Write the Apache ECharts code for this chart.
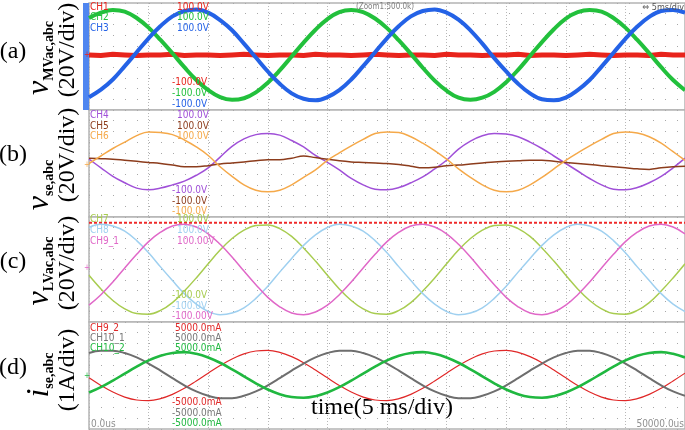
<!DOCTYPE html>
<html>
<head>
<meta charset="utf-8">
<script src="https://cdn.jsdelivr.net/npm/echarts@6/dist/echarts.min.js"></script>
<style>
html, body { margin: 0; padding: 0; background: #fff; }
#scope { width: 685px; height: 430px; }
</style>
</head>
<body>
<div id="scope"></div>
<script>
// time axis in ms (5 ms/div, 10 div), one sample per ms
const timeMs = [0,1,2,3,4,5,6,7,8,9,10,11,12,13,14,15,16,17,18,19,20,21,22,23,24,25,26,27,28,29,30,31,32,33,34,35,36,37,38,39,40,41,42,43,44,45,46,47,48,49,50];

// (a) MV side voltages, V
const ch1 = [3,2,4,3,2,3,3,4,2,3, 3,2,3,4,3,2,3,3,2,4, 3,3,2,3,4,3,2,3,3,2, 4,3,3,2,3,3,4,2,3,3, 2,3,4,3,2,3,3,2,4,3,3];
const ch2 = [72,82,87,84,72,54,31,6,-20,-44, -63,-76,-81,-78,-67,-49,-26,0,26,50,
             70,83,87,83,71,53,30,5,-21,-45, -64,-77,-81,-77,-66,-48,-25,1,27,51,
             71,83,87,84,72,54,31,6,-20,-44,-63];
const ch3 = [-76,-62,-43,-18,8,34,57,75,85,88, 82,68,49,24,-2,-28,-51,-69,-79,-82,
             -76,-63,-43,-18,8,34,57,75,85,88, 82,69,49,24,-3,-28,-51,-69,-80,-82,
             -77,-63,-44,-19,7,33,56,74,85,87,82];

// (b) series transformer voltages, V
const ch4 = [8,-8,-24,-36,-46,-49,-46,-40,-33,-22, -8,12,32,46,54,56,53,43,31,15,
             2,-12,-28,-40,-48,-49,-45,-36,-25,-10, 6,27,42,52,56,55,50,40,28,14,
             0,-14,-28,-40,-48,-49,-45,-36,-24,-8,10];
const ch5 = [10,9,8,6,4,2,0,-3,-6,-6, -4,-1,1,3,5,7,7,10,14,11,
             8,5,3,2,1,0,-2,-5,-8,-7, -4,-3,-1,1,3,4,5,6,6,4,
             2,0,-2,-4,-6,-8,-10,-11,-8,-6,-5];
const ch6 = [0,14,28,40,52,59,58,54,44,31, 15,-6,-24,-40,-50,-53,-50,-40,-26,-12,
             6,20,33,45,56,59,58,50,38,24, 8,-10,-26,-40,-50,-53,-50,-40,-26,-10,
             6,20,33,45,56,59,57,50,38,22,6];

// (c) LV side voltages, V
const ch7 = [-11,-37,-59,-75,-84,-85,-78,-63,-41,-16, 11,37,59,75,84,85,78,63,41,16,
             -11,-37,-59,-75,-84,-85,-78,-63,-41,-16, 11,37,59,75,84,85,78,63,41,16,
             -11,-37,-59,-75,-84,-85,-78,-63,-41,-16,11];
const ch8 = [80,86,83,73,55,32,5,-21,-46,-66, -80,-86,-83,-73,-55,-32,-5,21,46,66,
             80,86,83,73,55,32,5,-21,-46,-66, -80,-86,-83,-73,-55,-32,-5,21,46,66,
             80,86,83,73,55,32,5,-21,-46,-66,-80];
const ch91 = [-68,-48,-24,3,29,53,71,83,86,81, 68,48,24,-3,-29,-53,-71,-83,-86,-81,
              -68,-48,-24,3,29,53,71,83,86,81, 68,48,24,-3,-29,-53,-71,-83,-86,-81,
              -68,-48,-24,3,29,53,71,83,86,81,68];
const markerTime = [0, 50];
const markerC = [89, 89];

// (d) series currents, mA
const ch92 = [-220,-930,-1550,-2020,-2290,-2340,-2160,-1760,-1200,-510, 220,930,1550,2020,2290,2340,2160,1760,1200,510,
              -220,-930,-1550,-2020,-2290,-2340,-2160,-1760,-1200,-510, 220,930,1550,2020,2290,2340,2160,1760,1200,510,
              -220,-930,-1550,-2020,-2290,-2340,-2160,-1760,-1200,-510,220];
const ch101 = [2100,2320,2320,2100,1690,1120,450,-250,-920,-1490, -1900,-2120,-2120,-1900,-1490,-920,-250,450,1120,1690,
               2100,2320,2320,2100,1690,1120,450,-250,-920,-1490, -1900,-2120,-2120,-1900,-1490,-920,-250,450,1120,1690,
               2100,2320,2320,2100,1690,1120,450,-250,-920,-1490,-1900];
const ch102 = [-1590,-1090,-480,180,830,1410,1850,2110,2180,2030, 1690,1190,580,-80,-730,-1310,-1750,-2010,-2080,-1930,
               -1590,-1090,-480,180,830,1410,1850,2110,2180,2030, 1690,1190,580,-80,-730,-1310,-1750,-2010,-2080,-1930,
               -1590,-1090,-480,180,830,1410,1850,2110,2180,2030,1690];

const panels = [
  { top: 3, height: 107, min: -100, max: 100, step: 20 },
  { top: 110, height: 107, min: -100, max: 100, step: 20 },
  { top: 217, height: 105, min: -100, max: 100, step: 20 },
  { top: 322, height: 107, min: -5000, max: 5000, step: 1000 }
];

function pairs(xs, vals) {
  return xs.map((t, i) => [t, vals[i]]);
}
function trace(name, gi, vals, color, width, extra) {
  return Object.assign({
    name: name,
    type: "line",
    xAxisIndex: gi,
    yAxisIndex: gi,
    showSymbol: false,
    smooth: 0.4,
    silent: true,
    lineStyle: { color: color, width: width },
    data: pairs(timeMs, vals)
  }, extra || {});
}

const scopeFont = "'Liberation Sans Narrow', 'DejaVu Sans Condensed', sans-serif";
const serif = "'Liberation Serif', 'DejaVu Serif', serif";

function txt(x, y, s, color, size, align) {
  return {
    type: "text", x: x, y: y, silent: true, z: 10,
    style: {
      text: s, fill: color, fontFamily: scopeFont, fontSize: size || 10,
      align: align || "left", textAlign: align || "left",
      verticalAlign: "middle", textVerticalAlign: "middle"
    }
  };
}
function serifText(x, y, s, rot) {
  return {
    type: "text", x: x, y: y, rotation: rot || 0, silent: true,
    style: {
      text: s, fill: "#000", fontFamily: serif, fontSize: 24,
      align: "center", textAlign: "center",
      verticalAlign: "middle", textVerticalAlign: "middle"
    }
  };
}
function symText(x, y, sym, sub) {
  return {
    type: "text", x: x, y: y, rotation: Math.PI / 2, silent: true,
    style: {
      text: "{v|" + sym + "}{s|" + sub + "}",
      align: "center", textAlign: "center",
      verticalAlign: "middle", textVerticalAlign: "middle",
      rich: {
        v: { fontFamily: serif, fontStyle: "italic", fontSize: 32, fill: "#000", lineHeight: 32 },
        s: { fontFamily: serif, fontWeight: "bold", fontSize: 14, fill: "#000", verticalAlign: "bottom" }
      }
    }
  };
}

// label colours
const cA = ["#e8241c", "#22c03c", "#2462e6"];
const cB = ["#a050d8", "#8c3c1c", "#f5a94a"];
const cC = ["#a8cc50", "#9fd0f0", "#e068c8"];
const cD = ["#e02828", "#777777", "#20b840"];

const option = {
  backgroundColor: "#fff",
  animation: false,
  grid: panels.map(p => ({
    left: 89, width: 596, top: p.top, height: p.height,
    show: true, backgroundColor: "#fff", borderColor: "#b4b4b4", borderWidth: 1.5
  })),
  xAxis: panels.map((p, i) => ({
    type: "value", gridIndex: i, min: 0, max: 50, interval: 5,
    axisLabel: { show: false }, axisTick: { show: false }, axisLine: { show: false },
    splitLine: { show: true, lineStyle: { color: "#b8b8b8", type: [1, 2], width: 1 } }
  })),
  yAxis: panels.map((p, i) => ({
    type: "value", gridIndex: i, min: p.min, max: p.max, interval: p.step,
    axisLabel: { show: false }, axisTick: { show: false }, axisLine: { show: false },
    splitLine: { show: true, lineStyle: { color: "#a8a8a8", type: [1, 11], width: 1 } }
  })),
  series: [
    trace("CH1", 0, ch1, cA[0], 5, { smooth: false }),
    trace("CH2", 0, ch2, cA[1], 4),
    trace("CH3", 0, ch3, cA[2], 4),
    trace("CH4", 1, ch4, cB[0], 1.5),
    trace("CH5", 1, ch5, cB[1], 1.5),
    trace("CH6", 1, ch6, cB[2], 1.5),
    {
      name: "marker", type: "line", xAxisIndex: 2, yAxisIndex: 2, showSymbol: false, silent: true,
      lineStyle: { color: "#ee2a2a", width: 2, type: [3, 2] },
      data: pairs(markerTime, markerC)
    },
    trace("CH7", 2, ch7, cC[0], 1.5),
    trace("CH8", 2, ch8, cC[1], 1.5),
    trace("CH9_1", 2, ch91, cC[2], 1.5),
    trace("CH9_2", 3, ch92, cD[0], 1.2),
    trace("CH10_1", 3, ch101, "#6e6e6e", 2),
    trace("CH10_2", 3, ch102, cD[2], 2.6)
  ],
  graphic: {
    elements: [
      { type: "rect", silent: true, shape: { x: 83, y: 3, width: 6, height: 107 }, style: { fill: "#4f86f0" } },
      // panel (a)
      txt(90, 7, "CH1", cA[0]), txt(90, 17, "CH2", cA[1]), txt(90, 28, "CH3", cA[2]),
      txt(177, 7, "100.0V", cA[0]), txt(177, 17, "100.0V", cA[1]), txt(177, 28, "100.0V", cA[2]),
      txt(172, 82, "-100.0V", cA[0]), txt(172, 93, "-100.0V", cA[1]), txt(172, 104, "-100.0V", cA[2]),
      txt(385, 7, "(Zoom1:500.0k)", "#808080", 8, "center"),
      txt(684, 8, "\u21d4 5ms/div", "#555555", 9, "right"),
      // panel (b)
      txt(90, 115, "CH4", cB[0]), txt(90, 126, "CH5", cB[1]), txt(90, 136, "CH6", cB[2]),
      txt(177, 115, "100.0V", cB[0]), txt(177, 126, "100.0V", cB[1]), txt(177, 136, "100.0V", cB[2]),
      txt(172, 190, "-100.0V", cB[0]), txt(172, 201, "-100.0V", cB[1]), txt(172, 211, "-100.0V", cB[2]),
      // panel (c)
      txt(90, 219, "CH7", cC[0]), txt(90, 230, "CH8", cC[1]), txt(90, 241, "CH9_1", cC[2]),
      txt(177, 219, "100.0V", cC[0]), txt(177, 230, "100.0V", cC[1]), txt(177, 241, "100.00V", cC[2]),
      txt(172, 295, "-100.0V", cC[0]), txt(172, 306, "-100.0V", cC[1]), txt(172, 316, "-100.00V", cC[2]),
      // panel (d)
      txt(90, 328, "CH9_2", cD[0]), txt(90, 338, "CH10_1", cD[1]), txt(90, 348, "CH10_2", cD[2]),
      txt(175, 328, "5000.0mA", cD[0]), txt(175, 338, "5000.0mA", cD[1]), txt(175, 348, "5000.0mA", cD[2]),
      txt(172, 402, "-5000.0mA", cD[0]), txt(172, 413, "-5000.0mA", cD[1]), txt(172, 423, "-5000.0mA", cD[2]),
      txt(91, 424, "0.0us", "#909090"),
      txt(684, 424, "50000.0us", "#909090", 10, "right"),
      // zero markers
      txt(84, 55, "+", cA[0], 8), txt(84, 165, "+", cB[2], 8), txt(84, 268, "+", cC[2], 8), txt(84, 376, "+", cD[2], 8),
      // left titles
      serifText(13, 52, "(a)"), serifText(13, 155, "(b)"), serifText(13, 262, "(c)"), serifText(13, 368, "(d)"),
      symText(40, 58, "v", "MVac,abc"),
      symText(40, 185, "v", "se,abc"),
      symText(40, 271, "v", "LVac,abc"),
      symText(40, 375, "i", "se,abc"),
      serifText(68, 50, "(20V/div)", Math.PI / 2),
      serifText(68, 155, "(20V/div)", Math.PI / 2),
      serifText(68, 263, "(20V/div)", Math.PI / 2),
      serifText(68, 370, "(1A/div)", Math.PI / 2),
      serifText(382, 408, "time(5 ms/div)")
    ]
  }
};

const myChart = echarts.init(document.getElementById("scope"), null, { renderer: "canvas" });
myChart.setOption(option);
</script>
</body>
</html>
